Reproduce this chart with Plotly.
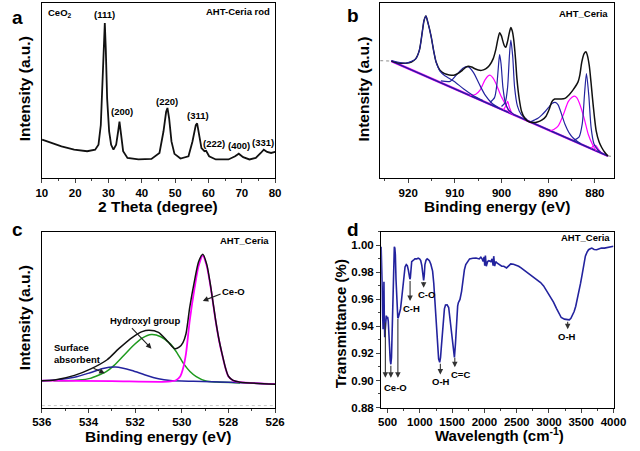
import plotly.graph_objects as go

FONT = "Liberation Sans"

# ---------------- Panel a : XRD ----------------
xrd_2theta = [10.1, 13.0, 15.9, 19.7, 23.6, 26.0, 27.0, 27.7, 28.2, 28.6, 28.9, 29.2, 29.6, 30.2, 30.8,
              31.5, 32.3, 32.9, 33.3, 33.8, 34.4, 35.7, 39.0, 42.9, 45.3, 46.5, 47.3, 47.7, 48.2, 48.9,
              49.8, 51.6, 54.0, 55.2, 56.2, 56.6, 57.2, 57.9, 58.8, 59.3, 60.2, 62.2, 66.0, 68.0, 69.1,
              70.4, 72.3, 74.2, 75.7, 76.6, 77.6, 78.8, 80.0]
xrd_intensity = [21.7, 19.8, 17.9, 16.0, 15.1, 16.0, 18.8, 30.1, 54.6, 82.9, 88.5, 73.4, 45.2, 26.4, 18.8,
                 16.0, 18.8, 26.4, 32.0, 24.5, 15.1, 11.3, 10.4, 10.7, 14.1, 26.4, 37.7, 39.9, 33.9, 20.7,
                 13.6, 10.9, 12.2, 20.7, 30.1, 31.1, 24.5, 16.9, 15.1, 15.4, 12.2, 10.4, 10.4, 12.2, 13.7,
                 11.7, 10.4, 11.3, 14.1, 16.0, 14.7, 14.1, 14.7]
xrd_peak_labels = ["(111)", "(200)", "(220)", "(311)", "(222)", "(400)", "(331)"]
xrd_peak_2theta = [28.8, 34.0, 47.6, 56.9, 61.8, 69.3, 76.5]

# ---------------- Panel b : Ce 3d XPS ----------------
b_envelope = [(923.6, 66.7), (922.0, 65.6), (920.5, 65.5), (919.3, 66.2), (918.4, 68.0), (917.6, 73.0),
              (917.0, 83.0), (916.6, 90.0), (916.2, 92.5), (915.8, 89.0), (915.1, 81.0), (914.5, 72.0),
              (914.0, 66.0), (913.2, 61.5), (912.2, 59.5), (911.2, 58.8), (910.2, 58.6), (909.2, 59.8),
              (908.4, 61.4), (907.6, 63.3), (907.1, 63.8), (906.4, 63.3), (905.7, 62.3), (905.0, 61.6),
              (904.3, 61.4), (903.4, 62.3), (902.6, 64.2), (901.8, 68.0), (901.2, 73.6), (900.8, 79.0),
              (900.4, 83.0), (900.0, 81.0), (899.8, 79.0), (899.4, 75.5), (899.1, 74.6), (898.7, 78.0),
              (898.4, 82.0), (898.0, 85.9), (897.7, 84.0), (897.4, 79.3), (897.0, 68.0), (896.7, 56.7),
              (896.2, 45.0), (895.7, 37.9), (895.0, 34.0), (894.3, 32.2), (893.3, 31.5), (892.3, 31.8),
              (891.3, 33.0), (890.5, 35.0), (889.8, 39.0), (889.2, 43.5), (888.6, 45.0), (888.1, 45.0),
              (887.2, 45.0), (886.4, 45.4), (885.5, 47.5), (884.7, 50.1), (883.6, 54.8), (883.2, 59.0),
              (882.8, 66.1), (882.3, 71.0), (881.9, 72.1), (881.6, 70.0), (881.2, 64.2), (880.8, 54.0),
              (880.5, 45.4), (880.1, 35.0), (879.7, 26.6), (879.1, 20.5), (878.5, 17.1), (877.8, 14.2),
              (877.2, 12.4)]
b_raw_left = [(926.0, 67.0), (923.6, 66.7)]
b_raw_right = [(877.2, 12.4), (876.0, 12.0)]
b_background = [(923.6, 66.7), (877.2, 12.4)]
b_comp1 = [(923.6, 67.0), (920.5, 65.5), (918.4, 68.0), (917.6, 73.0), (917.0, 83.0), (916.6, 90.0),
           (916.2, 92.5), (915.8, 89.0), (915.1, 81.0), (914.5, 72.0), (914.0, 66.0), (913.2, 61.0),
           (912.2, 58.5), (910.2, 55.2), (908.1, 50.7), (906.0, 46.9), (904.0, 44.1)]
b_comp2 = [(913.0, 55.4), (911.0, 55.1), (909.5, 59.3), (908.2, 62.8), (907.1, 63.4), (906.0, 60.1),
           (904.8, 53.7), (903.5, 47.2), (902.0, 42.4), (900.5, 39.7)]
b_comp3 = [(906.8, 47.1), (905.6, 47.6), (904.6, 50.1), (903.6, 55.7), (902.9, 58.2), (902.4, 58.6),
           (901.8, 57.0), (901.2, 53.9), (900.2, 47.3), (899.1, 41.6), (898.3, 37.5), (897.5, 36.3)]
b_comp4 = [(902.5, 43.0), (901.5, 45.8), (901.0, 53.2), (900.6, 65.8), (900.4, 70.5), (900.1, 65.2),
           (899.7, 51.7), (899.2, 43.2), (898.5, 38.8), (897.5, 36.5)]
b_comp5 = [(899.6, 38.8), (899.1, 41.0), (898.7, 43.6), (898.3, 40.1), (897.8, 36.8)]
b_comp6 = [(900.0, 40.7), (899.2, 43.2), (898.7, 51.6), (898.3, 70.1), (898.0, 78.8), (897.6, 69.3),
           (897.2, 51.8), (896.6, 41.1), (895.8, 36.2), (894.5, 33.1)]
b_comp7 = [(893.8, 31.9), (893.0, 32.9), (892.2, 34.0), (891.4, 35.8), (890.6, 38.0), (889.8, 40.5),
           (889.2, 42.4), (888.5, 43.1), (887.9, 41.8), (887.4, 38.4), (886.8, 33.6), (886.4, 30.5),
           (885.9, 27.6), (885.4, 25.2), (884.7, 22.8), (884.0, 21.3), (883.0, 19.4)]
b_comp8 = [(889.5, 26.9), (888.8, 27.5), (887.8, 29.8), (886.8, 35.7), (885.7, 43.5), (884.9, 46.0),
           (884.3, 46.7), (883.8, 45.5), (883.3, 42.6), (882.3, 34.1), (881.4, 24.7), (880.5, 19.0),
           (879.7, 15.4)]
b_comp9 = [(884.5, 21.3), (883.4, 23.2), (882.7, 30.8), (882.2, 48.2), (881.8, 59.6), (881.3, 47.2),
           (880.8, 28.6), (880.2, 19.4), (879.4, 16.0), (878.5, 14.0)]
b_comp10 = [(880.8, 16.8), (880.2, 18.4), (879.8, 18.4), (879.3, 16.4), (878.6, 14.1)]

# ---------------- Panel c : O 1s XPS ----------------
c_envelope = [(536.0, 15.3), (535.45, 15.7), (534.6, 18.3), (533.9, 22.0), (533.2, 27.2), (532.7, 33.5),
              (532.1, 40.1), (531.7, 43.2), (531.4, 44.0), (531.0, 42.8), (530.6, 37.6), (530.3, 33.5),
              (530.1, 34.5), (529.95, 37.0), (529.82, 42.0), (529.66, 57.0), (529.45, 72.5), (529.28, 83.0),
              (529.1, 87.3), (528.93, 81.5), (528.76, 68.8), (528.55, 49.8), (528.4, 38.3), (528.28, 31.0),
              (528.12, 22.2), (528.0, 17.8), (527.8, 15.4), (527.5, 14.4), (526.0, 13.3)]
c_ceo = [(536.0, 15.3), (533.0, 15.0), (530.6, 14.7), (530.25, 15.5), (530.07, 17.6), (529.95, 22.0),
         (529.82, 30.7), (529.66, 49.4), (529.45, 68.2), (529.28, 80.5), (529.1, 86.5), (528.93, 80.5),
         (528.76, 68.2), (528.55, 49.4), (528.4, 38.0), (528.28, 30.7), (528.12, 22.0), (528.0, 17.6),
         (527.8, 15.3), (527.5, 14.4), (526.0, 13.3)]
c_hydroxyl = [(535.5, 15.3), (535.0, 15.2), (534.4, 15.6), (533.93, 16.6), (533.6, 18.2), (533.24, 20.4),
              (532.9, 24.0), (532.5, 29.5), (532.1, 35.0), (531.7, 39.5), (531.3, 41.6), (530.9, 40.3),
              (530.48, 36.1), (530.2, 31.0), (529.93, 25.1), (529.65, 20.5), (529.38, 17.6), (528.97, 15.1),
              (528.5, 14.5), (527.5, 14.0)]
c_surface = [(536.0, 15.3), (535.3, 15.8), (534.6, 17.2), (533.93, 19.8), (533.38, 22.2), (532.83, 23.0),
             (532.14, 21.1), (531.6, 18.7), (531.0, 16.4), (530.5, 15.4), (529.5, 14.9), (528.0, 14.4),
             (526.0, 13.3)]
c_zero = [(536.0, 1.1), (526.0, 1.1)]

# ---------------- Panel d : FTIR ----------------
ftir_wavenumber = [400, 407, 415, 422, 430, 437, 443, 448, 455, 462, 470, 480, 490, 500, 510, 520, 530, 540,
                   550, 560, 570, 580, 590, 598, 604, 612, 620, 630, 640, 650, 658, 668, 684, 700, 714, 730,
                   749, 770, 789, 805, 820, 835, 845, 852, 862, 873, 900, 923, 950, 973, 995, 1013, 1030,
                   1045, 1058, 1068, 1078, 1095, 1113, 1130, 1147, 1170, 1197, 1215, 1232, 1252, 1272, 1290,
                   1307, 1320, 1332, 1347, 1362, 1380, 1397, 1410, 1422, 1446, 1465, 1481, 1496, 1511, 1525,
                   1535, 1551, 1565, 1571, 1585, 1596, 1610, 1621, 1646, 1671, 1690, 1711, 1740, 1770, 1820,
                   1870, 1920, 1945, 1965, 1980, 1995, 2005, 2015, 2029, 2050, 2069, 2100, 2119, 2135, 2144,
                   2159, 2175, 2194, 2230, 2269, 2300, 2343, 2380, 2408, 2450, 2493, 2530, 2568, 2620, 2667,
                   2740, 2817, 2870, 2917, 2970, 3016, 3070, 3116, 3160, 3190, 3240, 3280, 3315, 3340, 3365,
                   3390, 3415, 3440, 3465, 3490, 3514, 3540, 3564, 3590, 3614, 3640, 3664, 3700, 3739, 3780,
                   3813, 3860, 3913, 3960, 4000]
ftir_transmittance = [0.999, 0.990, 0.970, 0.950, 0.938, 0.945, 0.973, 0.950, 0.932, 0.938, 0.947, 0.948,
                      0.946, 0.947, 0.944, 0.938, 0.925, 0.915, 0.912, 0.917, 0.937, 0.962, 0.985, 0.997,
                      0.999, 0.998, 0.993, 0.975, 0.962, 0.950, 0.946, 0.947, 0.950, 0.953, 0.959, 0.968,
                      0.978, 0.984, 0.9858, 0.985, 0.982, 0.977, 0.975, 0.976, 0.985, 0.988, 0.989, 0.990,
                      0.990, 0.9905, 0.990, 0.9887, 0.985, 0.978, 0.974, 0.978, 0.9858, 0.989, 0.990, 0.9895,
                      0.9887, 0.986, 0.981, 0.972, 0.9588, 0.942, 0.9245, 0.916, 0.9135, 0.917, 0.9245, 0.936,
                      0.9466, 0.953, 0.9559, 0.956, 0.956, 0.954, 0.946, 0.937, 0.929, 0.9245, 0.919, 0.917,
                      0.927, 0.940, 0.9466, 0.955, 0.9576, 0.959, 0.960, 0.966, 0.976, 0.982, 0.9858, 0.988,
                      0.990, 0.9905, 0.9907, 0.990, 0.9912, 0.990, 0.988, 0.9915, 0.985, 0.9925, 0.9846, 0.988,
                      0.9887, 0.988, 0.990, 0.985, 0.992, 0.9846, 0.988, 0.987, 0.986, 0.9846, 0.9845, 0.9833,
                      0.985, 0.9863, 0.986, 0.9853, 0.9845, 0.9833, 0.9815, 0.9797, 0.977, 0.975, 0.9725,
                      0.970, 0.966, 0.9625, 0.958, 0.9534, 0.949, 0.9466, 0.9454, 0.945, 0.9449, 0.946, 0.948,
                      0.951, 0.955, 0.960, 0.966, 0.972, 0.9784, 0.986, 0.992, 0.995, 0.9968, 0.9975, 0.998,
                      0.997, 0.9968, 0.9975, 0.998, 0.998, 0.9985, 0.999, 0.9993]
ftir_band_labels = ["C-H", "C-O", "O-H", "C=C", "O-H"]
ftir_band_pos = [848, 1058, 1317, 1541, 3290]
ftir_ceo_pos = [465, 550, 659]

# ---------------- colours ----------------
BLACK = "#111111"
BLUE = "#23239e"
MAGENTA = "#ff00ff"
GREEN = "#1e9a1e"
GREY = "#9a9a9a"


def unzip(pairs):
    return [p[0] for p in pairs], [p[1] for p in pairs]


fig = go.Figure()


def add_line(pairs, color, width, xa, ya, shape="spline", dash="solid"):
    xs, ys = unzip(pairs)
    fig.add_trace(go.Scatter(x=xs, y=ys, mode="lines", xaxis=xa, yaxis=ya,
                             line=dict(color=color, width=width, shape=shape, smoothing=0.7, dash=dash),
                             hoverinfo="skip"))


# panel a
fig.add_trace(go.Scatter(x=xrd_2theta, y=xrd_intensity, mode="lines", xaxis="x", yaxis="y",
                         line=dict(color=BLACK, width=1.8), hoverinfo="skip"))

# panel b
add_line(b_raw_left, GREY, 1.2, "x2", "y2", "linear", "dot")
add_line(b_raw_right, GREY, 1.2, "x2", "y2", "linear", "dot")
add_line(b_background, MAGENTA, 2.2, "x2", "y2", "linear")
add_line(b_background, BLUE, 1.6, "x2", "y2", "linear")
for comp, col in [(b_comp3, MAGENTA), (b_comp5, MAGENTA), (b_comp8, MAGENTA), (b_comp10, MAGENTA),
                  (b_comp2, BLUE), (b_comp4, BLUE), (b_comp6, BLUE), (b_comp7, BLUE), (b_comp9, BLUE)]:
    add_line(comp, col, 1.2, "x2", "y2")
add_line(b_envelope, BLACK, 1.5, "x2", "y2")
add_line(b_comp1, BLUE, 1.1, "x2", "y2")

# panel c
add_line(c_zero, "#c8c8c8", 1, "x3", "y3", "linear", "dot")
add_line(c_hydroxyl, GREEN, 1.5, "x3", "y3")
add_line(c_surface, BLUE, 1.5, "x3", "y3")
add_line(c_ceo, MAGENTA, 1.8, "x3", "y3")
add_line(c_envelope, BLACK, 1.5, "x3", "y3")

# panel d
fig.add_trace(go.Scatter(x=ftir_wavenumber, y=ftir_transmittance, mode="lines", xaxis="x4", yaxis="y4",
                         line=dict(color=BLUE, width=1.6), hoverinfo="skip"))

W, H = 640, 451


def dx(p0, p1):
    return [p0 / W, p1 / W]


def dy(top, bottom):
    return [1 - bottom / H, 1 - top / H]


tickfont = dict(family=FONT, size=11.5, color="black", weight="bold")
common = dict(showline=True, linecolor="black", linewidth=1.3, mirror=True, showgrid=False,
              zeroline=False, tickfont=tickfont)
noy = dict(common, showticklabels=False, ticks="", range=[0, 100])

fig.update_layout(
    width=W, height=H, margin=dict(l=0, r=0, t=0, b=0),
    paper_bgcolor="white", plot_bgcolor="white", showlegend=False,
    font=dict(family=FONT, color="black"),
    xaxis=dict(common, domain=dx(33, 275), range=[10, 80], anchor="y", tick0=10, dtick=10,
               ticks="outside", ticklen=4, tickwidth=1.2,
               minor=dict(ticks="outside", dtick=5, tick0=10, ticklen=2.5, tickwidth=1, showgrid=False)),
    yaxis=dict(noy, domain=dy(3, 180), anchor="x"),
    xaxis2=dict(common, domain=dx(384, 626), range=[926, 876], anchor="y2", tick0=880, dtick=10,
                ticks="outside", ticklen=4, tickwidth=1.2,
                minor=dict(ticks="outside", dtick=5, tick0=880, ticklen=2.5, tickwidth=1, showgrid=False)),
    yaxis2=dict(noy, domain=dy(3, 180), anchor="x2"),
    xaxis3=dict(common, domain=dx(33, 275), range=[536, 526], anchor="y3", tick0=526, dtick=2,
                ticks="outside", ticklen=4, tickwidth=1.2,
                minor=dict(ticks="outside", dtick=1, tick0=526, ticklen=2.5, tickwidth=1, showgrid=False)),
    yaxis3=dict(noy, domain=dy(235, 413), anchor="x3"),
    xaxis4=dict(common, domain=dx(385, 626), range=[400, 4000], anchor="y4", tick0=500, dtick=500,
                ticks="outside", ticklen=4, tickwidth=1.2,
                minor=dict(ticks="outside", dtick=250, tick0=500, ticklen=2.5, tickwidth=1, showgrid=False)),
    yaxis4=dict(common, domain=dy(235, 413), anchor="x4", range=[0.88, 1.01], tick0=0.88, dtick=0.02,
                tickformat=".2f", ticks="outside", ticklen=4, tickwidth=1.2,
                minor=dict(ticks="outside", dtick=0.01, tick0=0.88, ticklen=2.5, tickwidth=1, showgrid=False)),
)

ann = []


def text(t, x, y, xref="paper", yref="paper", size=9.5, xanchor="center", yanchor="middle", angle=0,
         align="center"):
    ann.append(dict(text=t, x=x, y=y, xref=xref, yref=yref, showarrow=False, xanchor=xanchor,
                    yanchor=yanchor, textangle=angle, align=align,
                    font=dict(family=FONT, size=size, color="black", weight="bold")))


def arrow(xt, yt, xs, ys, xref, yref, color="#222222"):
    ann.append(dict(text="", x=xt, y=yt, ax=xs, ay=ys, xref=xref, yref=yref, axref=xref, ayref=yref,
                    showarrow=True, arrowhead=2, arrowsize=1.0, arrowwidth=1.1, arrowcolor=color,
                    standoff=0, startstandoff=0))


def P(px, py):
    return px / W, 1 - py / H


# panel letters
for letter, (px, py) in zip("abcd", [(8, 18), (356, 16), (8, 233), (356, 233)]):
    xx, yy = P(px, py)
    text(letter, xx, yy, size=19)

# axis titles
for t, (px, py), ang, sz in [("Intensity (a.u.)", (15, 90), -90, 15.5), ("2 Theta (degree)", (153, 209), 0, 15.5),
                             ("Intensity (a.u.)", (367, 90), -90, 15.5), ("Binding energy (eV)", (505, 209), 0, 15.5),
                             ("Intensity (a.u.)", (15, 322), -90, 15.5), ("Binding energy (eV)", (153, 442), 0, 15.5),
                             ("Transmittance (%)", (343, 328), -90, 15),
                             ("Wavelength (cm<sup>-1</sup>)", (508, 440), 0, 15)]:
    xx, yy = P(px, py)
    text(t, xx, yy, size=sz, angle=ang)

# panel a labels
text("CeO<sub>2</sub>", 11.2, 94.4, "x", "y", xanchor="left")
text("AHT-Ceria rod", 79.1, 94.9, "x", "y", xanchor="right")
lab_y = [93.2, 37.9, 43.5, 35.6, 19.8, 18.6, 20.3]
for lab, xx, yy in zip(xrd_peak_labels, xrd_peak_2theta, lab_y):
    text(lab, xx, yy, "x", "y")

# panel b label
text("AHT_Ceria", 876.8, 93.8, "x2", "y2", xanchor="right")

# panel c labels
text("AHT_Ceria", 526.17, 94.9, "x3", "y3", xanchor="right")
text("Ce-O", 527.79, 66.3, "x3", "y3")
arrow(529.1, 60.7, 528.27, 65.0, "x3", "y3")
text("Hydroxyl group", 531.58, 49.8, "x3", "y3")
arrow(531.3, 33.5, 532.2, 46.1, "x3", "y3")
text("Surface<br>absorbent", 535.55, 30.5, "x3", "y3", xanchor="left", align="left")
arrow(533.3, 19.5, 533.85, 22.8, "x3", "y3")

# panel d labels
text("AHT_Ceria", 3973, 1.0059, "x4", "y4", xanchor="right")
ceo_tail = [0.944, 0.912, 0.9466]
for xx, yt in zip(ftir_ceo_pos, ceo_tail):
    arrow(xx, 0.902, xx, yt, "x4", "y4", "#333333")
text("Ce-O", 617, 0.8946, "x4", "y4")
band_tail = [0.9748, 0.974, 0.9135, 0.918, 0.9446]
band_tip = [0.9588, 0.9686, 0.9045, 0.9098, 0.938]
band_text = [(863, 0.9535), (1098, 0.9633), (1322, 0.8996), (1636, 0.9045), (3280, 0.9324)]
for lab, xx, yt, yp, (tx, ty) in zip(ftir_band_labels, ftir_band_pos, band_tail, band_tip, band_text):
    arrow(xx, yp, xx, yt, "x4", "y4", "#333333")
    text(lab, tx, ty, "x4", "y4")

fig.update_layout(annotations=ann)
fig.write_html("out.html")
